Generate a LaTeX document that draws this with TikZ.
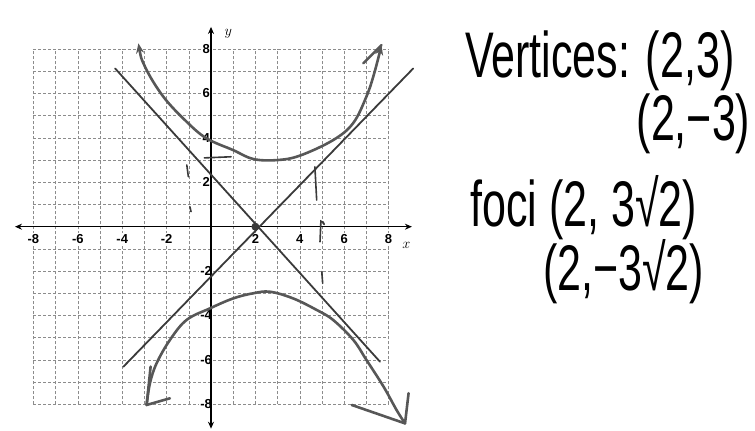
\documentclass[tikz,border=0pt]{standalone}
\usepackage{fontspec}
\setmainfont{Liberation Sans}
\usetikzlibrary{arrows.meta, calc}
\definecolor{pencil}{HTML}{3A3A3A}
\definecolor{gridGray}{HTML}{8C8C8C}
\newcommand{\tallhand}[1]{\scalebox{1}[1.5]{#1}}

\begin{document}
\begin{tikzpicture}[
    x=22.2pt, y=22.2pt,
    gridline/.style={gridGray, densely dashed, line width=0.6pt},
    axisline/.style={black, line width=1.4pt, {Stealth[length=7pt,width=6pt]}-{Stealth[length=7pt,width=6pt]}},
    tick/.style={font=\fontsize{13}{13}\selectfont\bfseries, fill=white, inner sep=1pt},
    asym/.style={pencil, line width=1.8pt, line cap=round},
    branch/.style={pencil!85, line width=2.6pt, line cap=round, line join=round},
    penmark/.style={pencil, line width=1.6pt, line cap=round},
    hand/.style={font=\fontsize{43}{50}\selectfont, inner sep=0pt},
]
    \useasboundingbox (-9.505,-9.158) rectangle (24.505,10.212);

    % grid
    \foreach \k in {-8,...,8} {
        \draw[gridline] (\k,-8) -- (\k,8);
        \draw[gridline] (-8,\k) -- (8,\k);
    }
    \foreach \k in {-8,-6,-4,-2,2,4,6,8} {
        \node[tick] (xt\k) at (\k,-0.55) {\k};
        \node[tick] (yt\k) at (-0.22,\k) {\k};
    }

    % axes
    \draw[axisline] (-8.83,0) -- (9.05,0);
    \draw[axisline] (0,-9.1) -- (0,9.0);
    \node[font=\fontsize{15}{15}\selectfont] (xlab) at (8.8,-0.82) {$x$};
    \node[font=\fontsize{15}{15}\selectfont] (ylab) at (0.78,8.71) {$y$};

    % asymptotes
    \draw[asym] (-4.32,7.13) -- (7.61,-6.08);
    \draw[asym] (-3.95,-6.31) -- (9.11,7.13);
    \node[circle, fill=pencil, inner sep=0pt, minimum size=8pt] (ctr) at (2,0) {};

    % branches
    \draw[branch, {Stealth[length=10pt,width=8pt]}-{Stealth[length=10pt,width=8pt]}]
        plot[smooth, tension=0.6] coordinates {(-3.27,8.26) (-2.97,7.2) (-2.15,5.86) (-1.1,4.73) (-0.2,3.98) (1,3.45)
        (1.9,3.05) (2.96,3.0) (4,3.2) (5.5,3.9) (6.4,4.66) (7.0,5.86) (7.35,6.9) (7.68,8.18)};
    \draw[branch]
        plot[smooth, tension=0.6] coordinates {(-2.9,-8.03) (-2.75,-7.05) (-2.45,-6.15) (-1.85,-5.1) (-1.1,-4.2)
        (-0.05,-3.68) (1.0,-3.23) (1.9,-3.0) (2.66,-2.93) (3.7,-3.23) (4.76,-3.75) (5.5,-4.2) (6.41,-5.1)
        (7.0,-6.0) (7.77,-7.2) (8.36,-8.26) (8.74,-8.86)};
    \coordinate (tipL) at (-2.9,-8.03);
    \coordinate (tipR) at (8.74,-8.86);
    \coordinate (tipU) at (7.68,8.18);
    \draw[branch] (tipL) -- (-2.72,-6.3);
    \draw[branch] (tipL) -- (-1.85,-7.73);
    \draw[branch] (tipR) -- (6.34,-8.03);
    \draw[branch] (tipR) -- (8.9,-7.5);
    \draw[branch] (tipU) -- (6.86,7.36);

    % pencil marks
    \draw[penmark] (-0.3,3.1) -- (0.9,3.15);
    \draw[penmark] (-1.09,2.78) -- (-1.02,2.25);
    \draw[penmark] (-0.95,0.9) -- (-0.9,0.68);
    \draw[penmark] (4.68,2.7) -- (4.76,1.2);
    \draw[penmark] (5.1,0.1) to[bend right=40] (4.95,0.25) -- (4.91,-0.68);
    \draw[penmark] (4.99,-2.03) -- (5.03,-2.55);

    % notes
    \node[hand, anchor=base west] (vert) at (11.44,6.74) {\tallhand{Vertices: (2,3)}};
    \node[hand, anchor=base east] (vert2) at (24.3,3.9) {\tallhand{(2,−3)}};
    \node[hand, anchor=base west] (foci) at (11.67,0.0) {\tallhand{foci (2, 3√2)}};
    \node[hand, anchor=base west] (foci2) at (14.95,-2.87) {\tallhand{(2,−3√2)}};
\end{tikzpicture}
\end{document}
